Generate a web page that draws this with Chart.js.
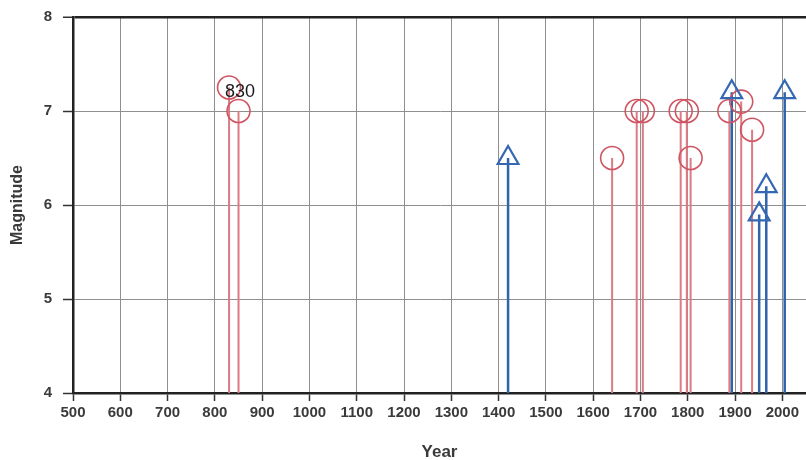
<!DOCTYPE html>
<html><head><meta charset="utf-8">
<script src="https://cdn.jsdelivr.net/npm/chart.js@4"></script>
<style>html,body{margin:0;padding:0;background:#fff}#wrap{width:806px;height:460px}</style>
</head><body><div id="wrap"><canvas id="c" width="806" height="460"></canvas></div>
<script>
// Data
const redYears = [830, 850, 1640, 1692, 1705, 1785, 1798, 1806, 1888, 1913, 1936];
const redMags  = [7.25, 7.0, 6.5, 7.0, 7.0, 7.0, 7.0, 6.5, 7.0, 7.1, 6.8];
const blueYears = [1420, 1893, 1951, 1966, 2005];
const blueMags  = [6.5, 7.2, 5.9, 6.2, 7.2];
const xTickValues = [500,600,700,800,900,1000,1100,1200,1300,1400,1500,1600,1700,1800,1900,2000];
const yTickValues = [4,5,6,7,8];
const xMin = 500, xMax = 2050;
const labelYear = 830, labelMag = 7.25;

const yBase = yTickValues[0];
function stems(years, mags){
  const out = [];
  years.forEach((yr,i)=>{ out.push({x:yr,y:yBase}); out.push({x:yr,y:mags[i]}); out.push({x:yr,y:null}); });
  return out;
}
function pts(years, mags){ return years.map((yr,i)=>({x:yr,y:mags[i]})); }

const RED_STEM = '#dc7b84', RED_MK = '#cf5563';
const BLUE_STEM = '#2f64ad', BLUE_MK = '#3568b2';
const axisFont = {family:'"Liberation Sans", Arial, sans-serif', size:15, weight:'bold'};

const labelPlugin = {
  id:'lbl',
  afterDatasetsDraw(chart){
    const {ctx, scales:{x,y}} = chart;
    ctx.save();
    ctx.font = '18px "Liberation Sans", Arial, sans-serif';
    ctx.fillStyle = '#1a1a1a';
    ctx.textAlign = 'left';
    ctx.textBaseline = 'middle';
    ctx.fillText(String(labelYear), x.getPixelForValue(labelYear) - 4, y.getPixelForValue(labelMag) + 5);
    ctx.restore();
  }
};

new Chart(document.getElementById('c'), {
  type: 'scatter',
  data: {
    datasets: [
      {data: stems(redYears, redMags), showLine:true, spanGaps:false, borderColor:RED_STEM, borderWidth:2, pointRadius:0, order:4},
      {data: stems(blueYears, blueMags), showLine:true, spanGaps:false, borderColor:BLUE_STEM, borderWidth:2.5, pointRadius:0, order:3},
      {data: pts(redYears, redMags), pointStyle:'circle', pointRadius:11.5, pointBorderWidth:1.6, pointBorderColor:RED_MK, pointBackgroundColor:'rgba(0,0,0,0)', order:2},
      {data: pts(blueYears, blueMags), pointStyle:'triangle', pointRadius:12, pointBorderWidth:2.2, pointBorderColor:BLUE_MK, pointBackgroundColor:'rgba(0,0,0,0)', order:1}
    ]
  },
  options: {
    responsive:false, animation:false, devicePixelRatio:1,
    layout:{autoPadding:false, padding:{top:17,left:0,right:0,bottom:0}},
    plugins:{legend:{display:false}, tooltip:{enabled:false}},
    scales:{
      x:{
        type:'linear', min:xMin, max:xMax,
        afterBuildTicks(s){ s.ticks = xTickValues.map(v=>({value:v})); },
        afterFit(s){ s.height = 67; s.paddingLeft = 0; s.paddingRight = 0; },
        grid:{color:'#8f8f8f', lineWidth:1, tickLength:8, tickColor:'#333', tickWidth:1.5},
        border:{color:'#222', width:2.5},
        ticks:{font:axisFont, color:'#3a3a3a', padding:3, maxRotation:0, autoSkip:false, callback:(v)=>String(v)},
        title:{display:true, text:'Year', font:{...axisFont, size:17, lineHeight:1}, color:'#3a3a3a', padding:{top:0,bottom:-1}}
      },
      y:{
        min:4, max:8,
        afterBuildTicks(s){ s.ticks = yTickValues.map(v=>({value:v})); },
        afterFit(s){ s.width = 73; s.paddingTop = 0; s.paddingBottom = 0; },
        grid:{
          color:(c)=> c.tick && c.tick.value===8 ? '#222' : '#8f8f8f',
          lineWidth:(c)=> c.tick && c.tick.value===8 ? 2.5 : 1,
          tickLength:10, tickColor:'#333', tickWidth:1.5
        },
        border:{color:'#222', width:2.5},
        ticks:{font:axisFont, color:'#3a3a3a', padding:11, callback:(v)=>String(v)},
        title:{display:true, text:'Magnitude', font:{...axisFont, size:16}, color:'#3a3a3a', padding:{top:8,bottom:4}}
      }
    }
  },
  plugins:[labelPlugin]
});
</script></body></html>
